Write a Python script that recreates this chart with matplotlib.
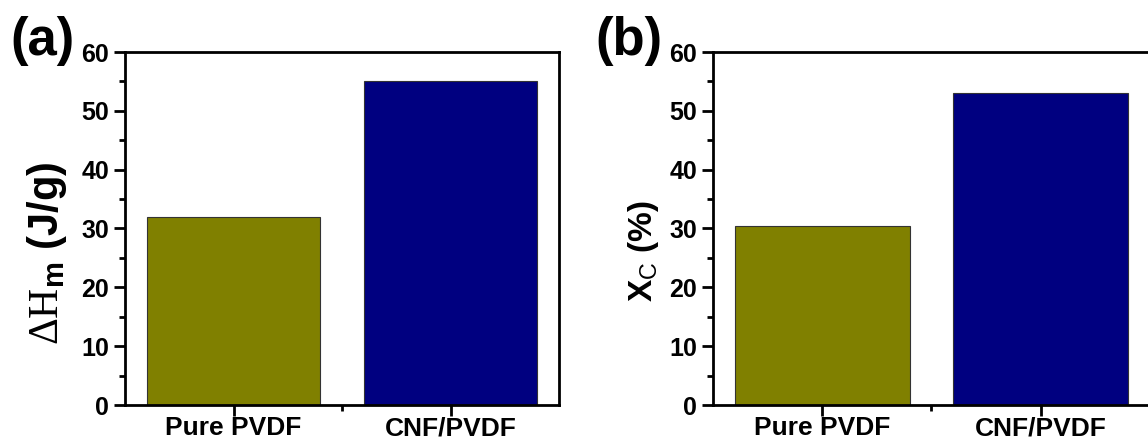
import matplotlib
matplotlib.use('Agg')
import matplotlib.pyplot as plt
from matplotlib.ticker import MultipleLocator, FixedLocator

plt.rcParams['font.family'] = 'Liberation Sans'
plt.rcParams['font.weight'] = 'bold'
plt.rcParams['mathtext.fontset'] = 'custom'
plt.rcParams['mathtext.rm'] = 'Liberation Serif:regular'
plt.rcParams['mathtext.sf'] = 'Liberation Sans:regular'
plt.rcParams['mathtext.bf'] = 'Liberation Sans:bold'

samples = ['Pure PVDF', 'CNF/PVDF']
dh_m = [32.0, 55.0]        # J/g
x_c = [30.5, 53.0]         # %
bar_colors = ['#808000', '#000080']

fig = plt.figure(figsize=(11.48, 4.44), dpi=100)
ax_a = fig.add_axes([125/1148, 39/444, 434/1148, 353/444])
ax_b = fig.add_axes([713/1148, 39/444, 437/1148, 353/444])

def style(ax, vals, ylabel, lsize, lx, ly):
    pos = range(len(samples))
    ax.bar(pos, vals, width=0.8, color=bar_colors, edgecolor='#333333', linewidth=0.8)
    ax.set_xlim(-0.5, 1.5)
    ax.set_ylim(0, 60)
    ax.set_xticks(list(pos))
    ax.set_xticklabels(samples, fontsize=19, fontweight='bold')
    ax.xaxis.set_minor_locator(FixedLocator([0.5]))
    ax.yaxis.set_major_locator(MultipleLocator(10))
    ax.yaxis.set_minor_locator(MultipleLocator(5))
    ax.tick_params(which='major', direction='out', length=8, width=2, labelsize=18)
    ax.tick_params(axis='x', which='major', labelsize=19, pad=0)
    ax.tick_params(which='minor', direction='out', length=4, width=2)
    for lab in ax.get_yticklabels():
        lab.set_fontweight('bold')
    for sp in ax.spines.values():
        sp.set_linewidth(2)
    ax.set_ylabel(ylabel, fontsize=lsize, fontweight='bold')
    ax.yaxis.set_label_coords(lx, ly)

style(ax_a, dh_m, r'$\mathrm{\Delta H}_{\mathbf{m}}$ (J/g)', 30, -0.128, 0.43)
style(ax_b, x_c, r'X$_{\mathsf{C}}$ (%)', 24, -0.12, 0.436)

fig.text(10/1148, 1 - 55/444, '(a)', fontsize=38, fontweight='bold')
fig.text(595/1148, 1 - 55/444, '(b)', fontsize=38, fontweight='bold')

fig.savefig('out.png', dpi=100)
